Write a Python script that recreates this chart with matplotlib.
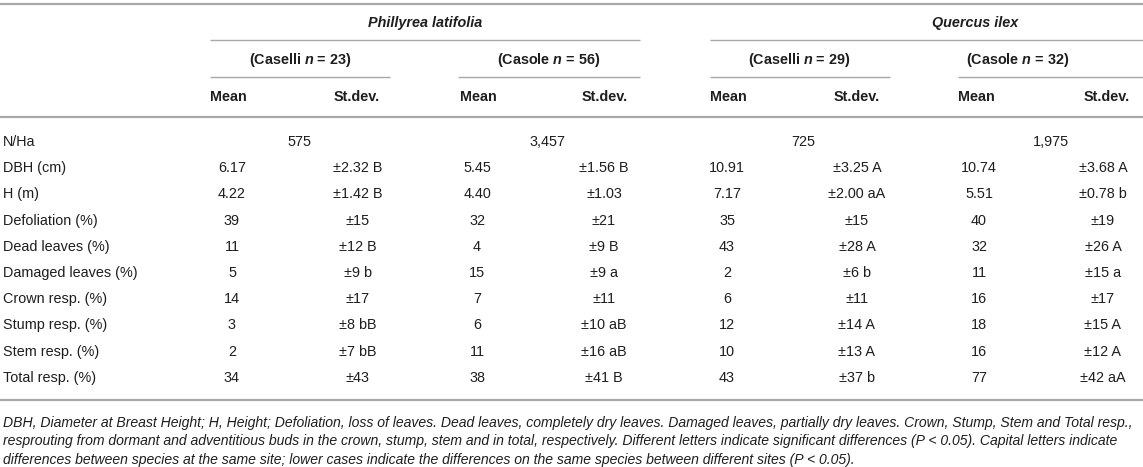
import matplotlib
matplotlib.use("Agg")
import matplotlib.pyplot as plt
from matplotlib.lines import Line2D

# ---------------- data ----------------
row_labels = ["N/Ha", "DBH (cm)", "H (m)", "Defoliation (%)", "Dead leaves (%)",
              "Damaged leaves (%)", "Crown resp. (%)", "Stump resp. (%)",
              "Stem resp. (%)", "Total resp. (%)"]
species = ["Phillyrea latifolia", "Quercus ilex"]
sites = ["Caselli", "Casole", "Caselli", "Casole"]
site_n = [23, 56, 29, 32]
density = ["575", "3,457", "725", "1,975"]

pl_caselli_mean = ["6.17", "4.22", "39", "11", "5", "14", "3", "2", "34"]
pl_caselli_sd = ["2.32 B", "1.42 B", "15", "12 B", "9 b", "17", "8 bB", "7 bB", "43"]
pl_casole_mean = ["5.45", "4.40", "32", "4", "15", "7", "6", "11", "38"]
pl_casole_sd = ["1.56 B", "1.03", "21", "9 B", "9 a", "11", "10 aB", "16 aB", "41 B"]
qi_caselli_mean = ["10.91", "7.17", "35", "43", "2", "6", "12", "10", "43"]
qi_caselli_sd = ["3.25 A", "2.00 aA", "15", "28 A", "6 b", "11", "14 A", "13 A", "37 b"]
qi_casole_mean = ["10.74", "5.51", "40", "32", "11", "16", "18", "16", "77"]
qi_casole_sd = ["3.68 A", "0.78 b", "19", "26 A", "15 a", "17", "15 A", "12 A", "42 aA"]

caption_lines = [
    "DBH, Diameter at Breast Height; H, Height; Defoliation, loss of leaves. Dead leaves, completely dry leaves. Damaged leaves, partially dry leaves. Crown, Stump, Stem and Total resp.,",
    "resprouting from dormant and adventitious buds in the crown, stump, stem and in total, respectively. Different letters indicate significant differences (P < 0.05). Capital letters indicate",
    "differences between species at the same site; lower cases indicate the differences on the same species between different sites (P < 0.05).",
]

# ---------------- layout ----------------
W, H = 1143, 467
plt.rcParams['font.family'] = ['Liberation Sans', 'DejaVu Sans']
plt.rcParams['mathtext.fontset'] = 'custom'
plt.rcParams['mathtext.it'] = 'Liberation Sans:italic:bold'
plt.rcParams['mathtext.rm'] = 'Liberation Sans:bold'

fig = plt.figure(figsize=(W / 100, H / 100), dpi=100)
fig.patch.set_facecolor('white')

TXT = '#1e1e1e'
FS = 10.4


def fx(x):
    return x / W


def fy(y):
    return 1 - y / H


def txt(x, y, s, ha='center', **kw):
    kw.setdefault('fontsize', FS)
    kw.setdefault('color', TXT)
    fig.text(fx(x), fy(y), s, ha=ha, va='center', **kw)


def hline(x0, x1, y, lw=1.4, color='#a8a8a8'):
    fig.add_artist(Line2D([fx(x0), fx(x1)], [fy(y), fy(y)], transform=fig.transFigure,
                          color=color, lw=lw, solid_capstyle='butt'))


# rules
hline(0, W, 3.5, lw=1.6)
hline(0, W, 117, lw=1.6)
hline(0, W, 400, lw=1.6)
hline(210, 640, 39.5, lw=1.0)
hline(710, W, 39.5, lw=1.0)
group_spans = [(210, 390), (458, 640), (710, 890), (958, W)]
for (a, b) in group_spans:
    hline(a, b, 77, lw=1.0)

# species headers
txt(425, 23, species[0], fontstyle='italic', fontweight='bold')
txt(975, 23, species[1], fontstyle='italic', fontweight='bold')

# site headers
site_centers = [300, 549, 799, 1018]
for c, s, n in zip(site_centers, sites, site_n):
    txt(c, 60, f"({s} $n$ = {n})", fontweight='bold')

# Mean / St.dev. headers
mean_left = [210, 460, 710, 958]
sd_right = [380, 628, 880, 1130]
for ml, sr in zip(mean_left, sd_right):
    txt(ml, 97, "Mean", ha='left', fontweight='bold')
    txt(sr, 97, "St.dev.", ha='right', fontweight='bold')

# rows
row_y = [142 + 26.2 * i for i in range(len(row_labels))]
for lab, y in zip(row_labels, row_y):
    txt(3, y, lab, ha='left')

mean_cols = [pl_caselli_mean, pl_casole_mean, qi_caselli_mean, qi_casole_mean]
sd_cols = [pl_caselli_sd, pl_casole_sd, qi_caselli_sd, qi_casole_sd]
mean_cx = [232, 477, 727, 979]
sd_cx = [358, 604, 857, 1103]
dens_cx = [299, 547, 803, 1051]

for d, cx in zip(density, dens_cx):
    txt(cx, row_y[0], d)

for mcol, scol, mx, sx in zip(mean_cols, sd_cols, mean_cx, sd_cx):
    for i, (m, s) in enumerate(zip(mcol, scol)):
        y = row_y[i + 1]
        txt(mx, y, m)
        txt(sx, y, "\u00b1" + s)

# caption
cap_y = [423, 441.5, 460]
for line, y in zip(caption_lines, cap_y):
    txt(3, y, line, ha='left', fontstyle='italic', fontsize=10.1)

fig.savefig("out.png", dpi=100, facecolor='white')
